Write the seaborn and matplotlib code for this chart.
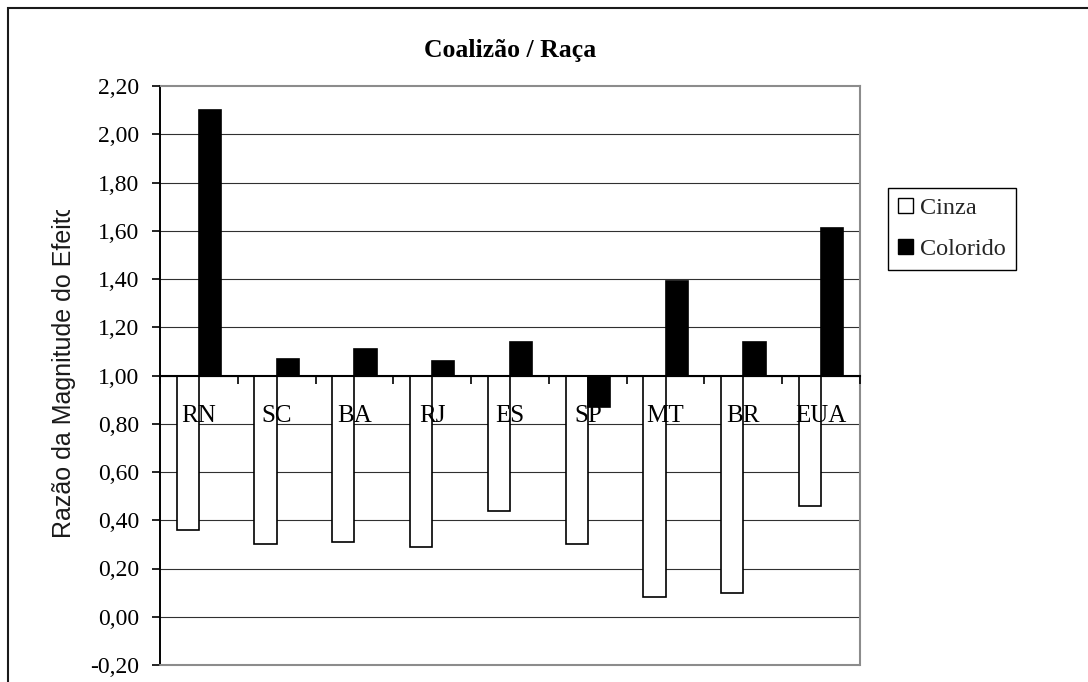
import numpy as np
import pandas as pd
import matplotlib
matplotlib.use("Agg")
import matplotlib.pyplot as plt
import seaborn as sns
from matplotlib.patches import Patch, Rectangle
from matplotlib.transforms import Bbox, TransformedBbox

# Effect-magnitude ratios per state, two groups (baseline of the ratio = 1.00)
estados = ["RN", "SC", "BA", "RJ", "ES", "SP", "MT", "BR", "EUA"]
cinza = [0.36, 0.30, 0.31, 0.29, 0.44, 0.30, 0.08, 0.10, 0.46]
colorido = [2.10, 1.07, 1.11, 1.06, 1.14, 0.87, 1.39, 1.14, 1.61]
grupos = ["Cinza", "Colorido"]
y_ticks = [-0.20, 0.00, 0.20, 0.40, 0.60, 0.80, 1.00, 1.20, 1.40, 1.60, 1.80, 2.00, 2.20]
base = 1.00

df = pd.DataFrame({
    "Estado": estados * 2,
    "Grupo": [grupos[0]] * len(estados) + [grupos[1]] * len(estados),
    "Razao": cinza + colorido,
})

sns.set_theme(style="white")
plt.rcParams["font.family"] = ["Liberation Serif", "DejaVu Serif"]

W, H = 1088, 682
fig = plt.figure(figsize=(W / 100, H / 100), dpi=100)
ax = fig.add_axes([160 / W, 17 / H, 700 / W, 579 / H])

sns.barplot(data=df, x="Estado", y="Razao", hue="Grupo", order=estados,
            hue_order=grupos, palette={"Cinza": "white", "Colorido": "black"},
            edgecolor="black", linewidth=1.2, width=0.572, saturation=1,
            errorbar=None, legend=False, ax=ax)

# bars grow from the 1.00 reference line
for cont in ax.containers:
    for bar in cont:
        top = bar.get_height()
        bar.set_y(base)
        bar.set_height(top - base)
        bar.set_zorder(1)

ax.set_xlim(-0.5, len(estados) - 0.5)
ax.set_ylim(y_ticks[0], y_ticks[-1])
ax.set_xlabel("")
ax.set_ylabel("")

# horizontal grid behind the bars; axis and its labels stay on top
ax.grid(False)
ax.set_axisbelow(False)
for v in y_ticks[1:-1]:
    ax.axhline(v, color="#303030", lw=0.8, zorder=0.5)

# axes: category axis crosses at 1.00
ax.spines["bottom"].set_position(("data", base))
ax.spines["bottom"].set_color("black")
ax.spines["bottom"].set_linewidth(1.5)
ax.spines["left"].set_color("black")
ax.spines["left"].set_linewidth(1.4)
for s in ("top", "right"):
    ax.spines[s].set_color("#8c8c8c")
    ax.spines[s].set_linewidth(1.5)
ax.plot([0, 1], [0, 0], transform=ax.transAxes, color="#8c8c8c", lw=1.5,
        clip_on=False, zorder=3)

ax.set_xticks(range(len(estados)))
ax.set_xticklabels(estados)
ax.set_xticks(np.arange(-0.5, len(estados), 1.0), minor=True)
ax.tick_params(axis="x", which="major", bottom=True, length=0, pad=21,
               labelsize=18, labelcolor="black")
ax.tick_params(axis="x", which="minor", bottom=True, length=6, width=1.2,
               direction="out", color="black")

ax.set_yticks(y_ticks)
ax.set_yticklabels([f"{v:.2f}".replace(".", ",") for v in y_ticks])
ax.tick_params(axis="y", which="major", left=True, length=6, width=1.2,
               direction="out", color="black", pad=9, labelsize=17,
               labelcolor="black")

# legend
handles = [Patch(facecolor="white", edgecolor="black", lw=1.0),
           Patch(facecolor="black", edgecolor="black", lw=1.0)]
leg = fig.legend(handles, grupos, loc="upper left",
                 bbox_to_anchor=(888 / W, 1 - 188 / H), frameon=True,
                 fancybox=False, edgecolor="black", framealpha=1,
                 fontsize=17.5, handlelength=0.62, handleheight=0.62,
                 handletextpad=0.3, borderpad=0.4, labelspacing=0.8,
                 borderaxespad=0)
leg.get_frame().set_linewidth(1.0)

# title
fig.text(510 / W, 1 - 50 / H, "Coalizão / Raça", ha="center", va="center",
         fontsize=18.5, fontweight="bold", color="black")

# vertical axis title, cut off at the top
yl = fig.text(64 / W, 1 - 538 / H, "Razão da Magnitude do Efeito",
              rotation=90, ha="center", va="bottom", fontsize=18,
              family=["Liberation Sans", "DejaVu Sans"], color="#1a1a1a")
yl.set_clip_box(TransformedBbox(Bbox.from_extents(0, 0, 1, 1 - 210 / H),
                                fig.transFigure))
yl.set_clip_on(True)

# outer chart frame
frame = Rectangle((8 / W, -0.1), 1.2, 1.1 - 8 / H, transform=fig.transFigure,
                  fill=False, edgecolor="#1a1a1a", lw=1.5, clip_on=False)
fig.patches.append(frame)

fig.savefig("out.png", dpi=100)
